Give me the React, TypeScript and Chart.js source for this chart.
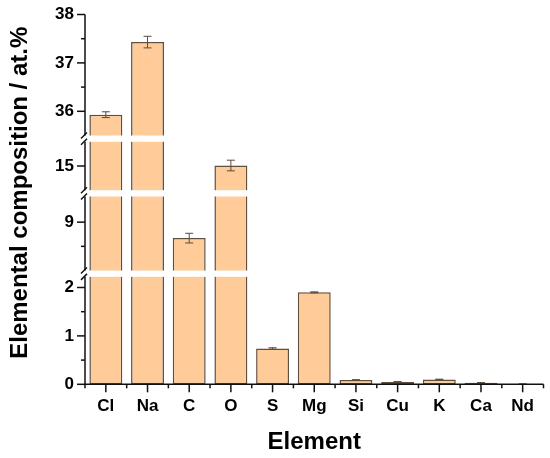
import React, { useEffect, useRef } from 'react';
import { Chart, registerables, LinearScale } from 'chart.js';

Chart.register(...registerables);

// ---- data ----
const categories = ['Cl', 'Na', 'C', 'O', 'S', 'Mg', 'Si', 'Cu', 'K', 'Ca', 'Nd'];
const composition = [35.93, 37.43, 8.67, 15.01, 0.74, 1.9, 0.09, 0.05, 0.1, 0.03, 0.005];
const errors = [0.06, 0.12, 0.1, 0.11, 0.015, 0.01, 0.006, 0.006, 0.006, 0.006, 0.002];
const majorTicks = [0, 1, 2, 9, 15, 36, 37, 38];
const minorTicks = [0.5, 1.5, 8.5, 36.5, 37.5];
// visible y ranges of the broken axis (bottom to top)
const segments: number[][] = [
  [0, 2.22],
  [8.0, 9.53],
  [14.5, 15.5],
  [35.5, 38],
];
const GAP = 0.13;

const FONT = "'Liberation Sans', Arial, sans-serif";

function toVirtual(val: number): number {
  let off = 0;
  for (let i = 0; i < segments.length; i++) {
    const [a, b] = segments[i];
    if (val < a) return i === 0 ? val : off - GAP / 2;
    if (val <= b) return off + (val - a);
    off += b - a + GAP;
  }
  const last = segments[segments.length - 1];
  return off - GAP + (val - last[1]);
}

function fromVirtual(v: number): number {
  let off = 0;
  for (let i = 0; i < segments.length; i++) {
    const [a, b] = segments[i];
    const len = b - a;
    if (v <= off + len) return a + Math.max(0, v - off);
    off += len + GAP;
  }
  return segments[segments.length - 1][1];
}

class BrokenScale extends LinearScale {
  static id = 'broken';
  buildTicks() {
    (this as any).start = (this as any).min;
    (this as any).end = (this as any).max;
    return [...majorTicks, ...minorTicks].sort((a, b) => a - b).map((v) => ({ value: v }));
  }
  getPixelForValue(value: number) {
    if (value === null || value === undefined || isNaN(value)) return NaN;
    const total = toVirtual((this as any).max) - toVirtual((this as any).min);
    return this.getPixelForDecimal((toVirtual(value) - toVirtual((this as any).min)) / total);
  }
  getValueForPixel(pixel: number) {
    const total = toVirtual((this as any).max) - toVirtual((this as any).min);
    return fromVirtual(this.getDecimalForPixel(pixel) * total + toVirtual((this as any).min));
  }
}
Chart.register(BrokenScale as any);

const axisPlugin = {
  id: 'brokenAxis',
  afterDatasetsDraw(chart: any) {
    const { ctx, chartArea, scales } = chart;
    const xs = scales.x;
    const ys = scales.y;
    const left = chartArea.left;
    const right = chartArea.right;
    ctx.save();

    // error bars
    ctx.strokeStyle = '#5a4b3c';
    ctx.lineWidth = 1;
    composition.forEach((v, i) => {
      const e = errors[i];
      const px = xs.getPixelForValue(i);
      const yt = ys.getPixelForValue(v + e);
      const yb = ys.getPixelForValue(v - e);
      ctx.beginPath();
      ctx.moveTo(px, yt);
      ctx.lineTo(px, yb);
      ctx.moveTo(px - 4, yt);
      ctx.lineTo(px + 4, yt);
      ctx.moveTo(px - 4, yb);
      ctx.lineTo(px + 4, yb);
      ctx.stroke();
    });

    // white gaps for the breaks
    ctx.fillStyle = '#ffffff';
    for (let i = 0; i < segments.length - 1; i++) {
      const yLow = ys.getPixelForValue(segments[i][1]);
      const yHigh = ys.getPixelForValue(segments[i + 1][0]);
      ctx.fillRect(left - 2, yHigh, right - left + 4, yLow - yHigh);
    }

    ctx.strokeStyle = '#111';
    ctx.lineWidth = 1.5;
    // y axis segments
    segments.forEach(([a, b]) => {
      ctx.beginPath();
      ctx.moveTo(left, ys.getPixelForValue(a) + (a === 0 ? 0.75 : 0));
      ctx.lineTo(left, ys.getPixelForValue(b));
      ctx.stroke();
    });
    // break marks
    for (let i = 0; i < segments.length - 1; i++) {
      [ys.getPixelForValue(segments[i][1]), ys.getPixelForValue(segments[i + 1][0])].forEach((yy: number) => {
        ctx.beginPath();
        ctx.moveTo(left - 4, yy + 3);
        ctx.lineTo(left + 2, yy - 3);
        ctx.stroke();
      });
    }
    // y ticks
    majorTicks.forEach((t) => {
      const yy = ys.getPixelForValue(t);
      ctx.beginPath();
      ctx.moveTo(left - 8, yy);
      ctx.lineTo(left, yy);
      ctx.stroke();
    });
    minorTicks.forEach((t) => {
      const yy = ys.getPixelForValue(t);
      ctx.beginPath();
      ctx.moveTo(left - 4, yy);
      ctx.lineTo(left, yy);
      ctx.stroke();
    });
    // x axis
    const y0 = ys.getPixelForValue(0);
    ctx.beginPath();
    ctx.moveTo(left - 0.75, y0);
    ctx.lineTo(right, y0);
    ctx.stroke();
    categories.forEach((_, i) => {
      const px = xs.getPixelForValue(i);
      ctx.beginPath();
      ctx.moveTo(px, y0);
      ctx.lineTo(px, y0 + 8);
      ctx.stroke();
    });
    for (let i = 0; i <= categories.length; i++) {
      const px = i < categories.length
        ? xs.getPixelForValue(i) - (xs.getPixelForValue(1) - xs.getPixelForValue(0)) / 2
        : right;
      ctx.beginPath();
      ctx.moveTo(px, y0);
      ctx.lineTo(px, y0 + 4);
      ctx.stroke();
    }
    ctx.restore();
  },
};

export default function App() {
  const ref = useRef<HTMLCanvasElement | null>(null);
  useEffect(() => {
    if (!ref.current) return;
    const chart = new Chart(ref.current, {
      type: 'bar',
      data: {
        labels: categories,
        datasets: [
          {
            data: composition,
            backgroundColor: '#FFCC99',
            borderColor: '#5e4f3f',
            borderWidth: 1.5,
            borderSkipped: false,
            barPercentage: 0.79,
            categoryPercentage: 1,
          },
        ],
      },
      options: {
        animation: false,
        responsive: true,
        maintainAspectRatio: false,
        layout: { padding: { top: 14.5, right: 6.5, left: 0, bottom: 0 } },
        plugins: { legend: { display: false }, tooltip: { enabled: false } },
        scales: {
          x: {
            type: 'category',
            offset: true,
            grid: { display: false, drawTicks: true, tickLength: 8 },
            border: { display: false },
            ticks: {
              color: '#000',
              autoSkip: false,
              maxRotation: 0,
              padding: 4,
              font: { family: FONT, size: 17, weight: 'bold' },
            },
            title: {
              display: true,
              text: 'Element',
              color: '#000',
              font: { family: FONT, size: 24, weight: 'bold' },
              padding: { top: 0, bottom: 1.6 },
            },
            afterFit: (s: any) => {
              s.height = 73.7;
            },
          },
          y: {
            type: 'broken' as any,
            min: 0,
            max: 38,
            grid: { display: false, drawTicks: true, tickLength: 8 },
            border: { display: false },
            ticks: {
              color: '#000',
              autoSkip: false,
              padding: 3,
              font: { family: FONT, size: 17, weight: 'bold' },
              callback: (v: any) => (majorTicks.includes(Number(v)) ? String(v) : ''),
            },
            title: {
              display: true,
              text: '  Elemental composition / at.%',
              color: '#000',
              font: { family: FONT, size: 24, weight: 'bold' },
              padding: { top: 6.4, bottom: 0 },
            },
            afterFit: (s: any) => {
              s.width = 85;
            },
          },
        },
      },
      plugins: [axisPlugin],
    } as any);
    return () => chart.destroy();
  }, []);
  return (
    <div style={{ position: 'absolute', left: 0, top: 0, width: 550, height: 458 }}>
      <canvas ref={ref} />
    </div>
  );
}
